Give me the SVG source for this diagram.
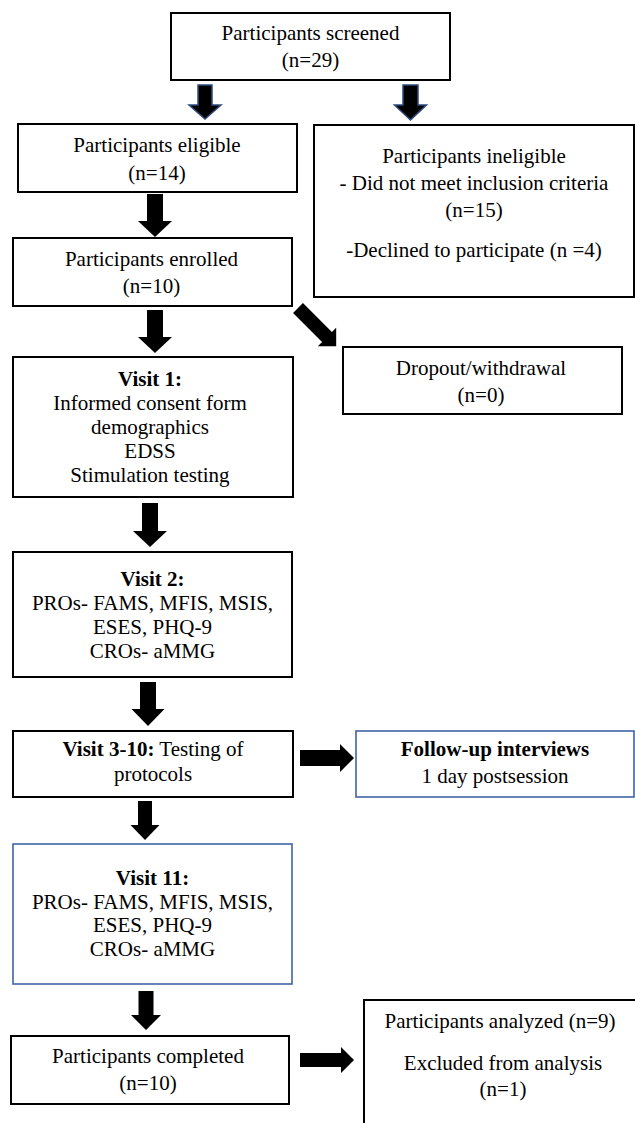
<svg xmlns="http://www.w3.org/2000/svg" width="635" height="1123" viewBox="0 0 635 1123">
<style>
  text { font-family: "Liberation Serif", "Times New Roman", serif; font-size: 21px; fill: #000; text-anchor: middle; }
  .b { font-weight: bold; }
  .box { fill: #fff; stroke: #000; stroke-width: 2; }
  .bbox { fill: #fff; stroke: #3F64A6; stroke-width: 1.6; }
  .arr { fill: #000; }
  .narr { fill: #000; stroke: #2E4C7E; stroke-width: 1.5; stroke-linejoin: miter; }
</style>
<rect width="635" height="1123" fill="#fff"/>

<g id="connectors">
  <polygon class="narr" points="198,85 212,85 212,105 221,105 205,119 189,105 198,105"/>
  <polygon class="narr" points="403,85 418,85 418,105 426.5,105 410.5,120 394.5,105 403,105"/>
  <polygon class="arr" points="147,194 163,194 163,221 172,221 155,237 138,221 147,221"/>
  <polygon class="arr" points="147,310 163,310 163,337 172,337 155,353 138,337 147,337"/>
  <polygon class="arr" points="142,503 158,503 158,531 167,531 150,547 133,531 142,531"/>
  <polygon class="arr" points="140,682 156,682 156,709 164.5,709 148,726 131.5,709 140,709"/>
  <polygon class="arr" points="138,801 152,801 152,825 159.5,825 145,840 130.5,825 138,825"/>
  <polygon class="arr" points="138.5,991 153.5,991 153.5,1015 161,1015 146,1030 131,1015 138.5,1015"/>
  <polygon class="arr" points="0,-7 41,-7 41,-13 54,0 41,13 41,7 0,7" transform="translate(298,308) rotate(45)"/>
  <polygon class="arr" points="300,750 340,750 340,744 354,758 340,772 340,766 300,766"/>
  <polygon class="arr" points="300,1053 341,1053 341,1047 354,1060 341,1073 341,1067 300,1067"/>
</g>

<g id="screened">
  <rect class="box" x="171" y="13" width="279" height="67"/>
  <text x="310.5" y="40">Participants screened</text>
  <text x="310.5" y="67">(n=29)</text>
</g>

<g id="eligible">
  <rect class="box" x="18" y="124" width="279" height="68"/>
  <text x="157" y="152">Participants eligible</text>
  <text x="157" y="180">(n=14)</text>
</g>

<g id="ineligible">
  <rect class="box" x="314" y="125" width="320" height="172"/>
  <text x="474" y="163">Participants ineligible</text>
  <text x="474" y="190">- Did not meet inclusion criteria</text>
  <text x="474" y="217">(n=15)</text>
  <text x="474" y="257">-Declined to participate (n =4)</text>
</g>

<g id="enrolled">
  <rect class="box" x="13" y="238" width="279" height="68"/>
  <text x="151.5" y="266">Participants enrolled</text>
  <text x="151.5" y="293">(n=10)</text>
</g>

<g id="dropout">
  <rect class="box" x="343" y="347" width="279" height="67"/>
  <text x="481" y="375">Dropout/withdrawal</text>
  <text x="481" y="402">(n=0)</text>
</g>

<g id="visit1">
  <rect class="box" x="13" y="357" width="280" height="140"/>
  <text class="b" x="150" y="386">Visit 1:</text>
  <text x="150" y="410">Informed consent form</text>
  <text x="150" y="434">demographics</text>
  <text x="150" y="458">EDSS</text>
  <text x="150" y="482">Stimulation testing</text>
</g>

<g id="visit2">
  <rect class="box" x="13" y="552" width="279" height="125"/>
  <text class="b" x="152.5" y="586">Visit 2:</text>
  <text x="152.5" y="610">PROs- FAMS, MFIS, MSIS,</text>
  <text x="152.5" y="634">ESES, PHQ-9</text>
  <text x="152.5" y="658">CROs- aMMG</text>
</g>

<g id="visit3-10">
  <rect class="box" x="13" y="731" width="280" height="66"/>
  <text x="153" y="756"><tspan class="b">Visit 3-10:</tspan> Testing of</text>
  <text x="153" y="781">protocols</text>
</g>

<g id="followup">
  <rect class="bbox" x="356" y="731" width="278" height="66" stroke-width="2"/>
  <text class="b" x="495" y="756">Follow-up interviews</text>
  <text x="495" y="783">1 day postsession</text>
</g>

<g id="visit11">
  <rect class="bbox" x="13" y="844" width="279" height="140"/>
  <text class="b" x="152.5" y="885">Visit 11:</text>
  <text x="152.5" y="909">PROs- FAMS, MFIS, MSIS,</text>
  <text x="152.5" y="932">ESES, PHQ-9</text>
  <text x="152.5" y="956">CROs- aMMG</text>
</g>

<g id="completed">
  <rect class="box" x="11" y="1036" width="278" height="68"/>
  <text x="148" y="1063">Participants completed</text>
  <text x="148" y="1090">(n=10)</text>
</g>

<g id="analysis">
  <path d="M 640 1000 H 364 V 1130" fill="none" stroke="#000" stroke-width="2"/>
  <text x="500" y="1028">Participants analyzed (n=9)</text>
  <text x="503" y="1070">Excluded from analysis</text>
  <text x="503" y="1096">(n=1)</text>
</g>
</svg>
